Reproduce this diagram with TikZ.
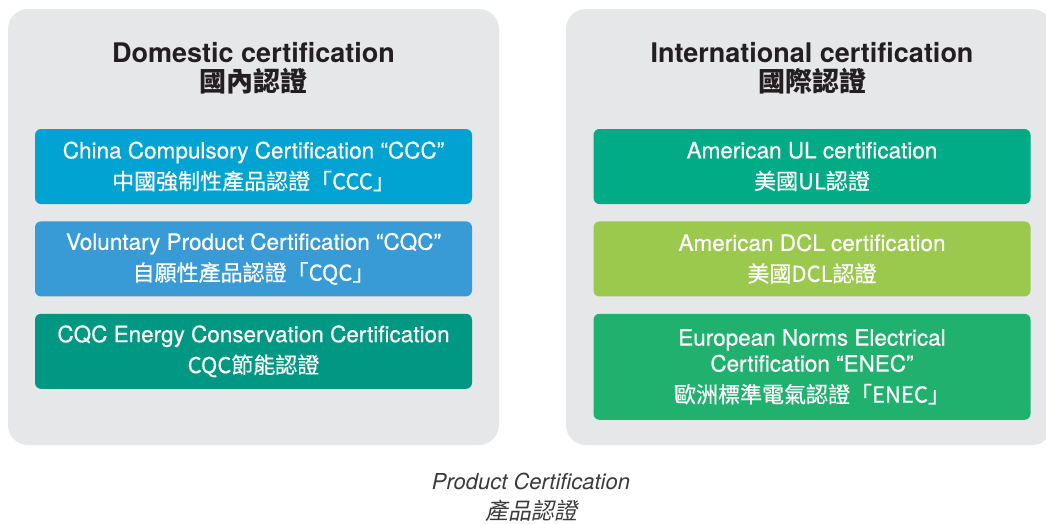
\documentclass[tikz,border=0pt]{standalone}
\usepackage{fontspec}
\setmainfont{TeX Gyre Heros}
\newfontfamily\boxfont[FakeBold=0.5]{TeX Gyre Heros}
\newfontfamily\cjk{Noto Sans CJK TC}
\newfontfamily\cjkbox[FakeBold=0.5]{Noto Sans CJK TC}
\newfontfamily\cjkit[FakeSlant=0.2]{Noto Sans CJK TC}
\usepackage{xcolor}
\usepackage{tikz}
\usetikzlibrary{
  positioning
}

\definecolor{panelgray}{HTML}{E6E7E9}
\definecolor{ccccyan}{HTML}{00A3D1}
\definecolor{cqcblue}{HTML}{389BD6}
\definecolor{energyteal}{HTML}{009783}
\definecolor{ulgreen}{HTML}{00AB85}
\definecolor{dcllime}{HTML}{9BC94E}
\definecolor{enecgreen}{HTML}{20B16F}
\definecolor{titleblack}{HTML}{231F20}
\definecolor{captiongray}{HTML}{3A3A3A}

\begin{document}
\begin{tikzpicture}[x=1pt,y=-1pt,
  panel/.style={fill=panelgray,rounded corners=20pt},
  certbox/.style={rounded corners=6pt,text=white,minimum width=437pt,
    inner sep=0pt,align=center,font=\boxfont\fontsize{22.5}{26}\selectfont},
  heading/.style={text=titleblack,align=center,
    font=\bfseries\fontsize{27}{29}\selectfont}]
  \useasboundingbox (0,0) rectangle (1046,523);

  % 背景のパネル
  \fill[panel] (8,9) rectangle (499,445);
  \fill[panel] (566,9) rectangle (1052,445);

  % 見出し
  \node[heading] (domtitle) at (253.5,68) {Domestic certification\\{\cjk 國內認證}};
  \node[heading] (inttitle) at (812,68) {International certification\\{\cjk 國際認證}};

  % 国内認証
  \node[certbox,fill=ccccyan,minimum height=75pt] (ccc) at (253.5,166.5)
    {China Compulsory Certification “CCC”\\[5pt]{\cjkbox\fontsize{22}{26}\selectfont 中國強制性產品認證「CCC」}};
  \node[certbox,fill=cqcblue,minimum height=75pt,below=17pt of ccc] (cqc)
    {Voluntary Product Certification “CQC”\\[5pt]{\cjkbox\fontsize{22}{26}\selectfont 自願性產品認證「CQC」}};
  \node[certbox,fill=energyteal,minimum height=75pt,below=17pt of cqc] (energy)
    {CQC Energy Conservation Certification\\[5pt]{\cjkbox\fontsize{22}{26}\selectfont CQC節能認證}};

  % 国際認証
  \node[certbox,fill=ulgreen,minimum height=75pt] (ul) at (812,166.5)
    {American UL certification\\[5pt]{\cjkbox\fontsize{22}{26}\selectfont 美國UL認證}};
  \node[certbox,fill=dcllime,minimum height=75pt,below=17pt of ul] (dcl)
    {American DCL certification\\[5pt]{\cjkbox\fontsize{22}{26}\selectfont 美國DCL認證}};
  \node[certbox,fill=enecgreen,minimum height=106pt,below=17pt of dcl] (enec)
    {European Norms Electrical\\Certification “ENEC”\\[5pt]{\cjkbox\fontsize{22}{26}\selectfont 歐洲標準電氣認證「ENEC」}};

  % キャプション
  \node[text=captiongray,align=center,font=\itshape\fontsize{22}{30}\selectfont]
    (caption) at (531,497) {Product Certification\\{\cjkit\fontsize{23}{30}\selectfont 產品認證}};
\end{tikzpicture}
\end{document}
